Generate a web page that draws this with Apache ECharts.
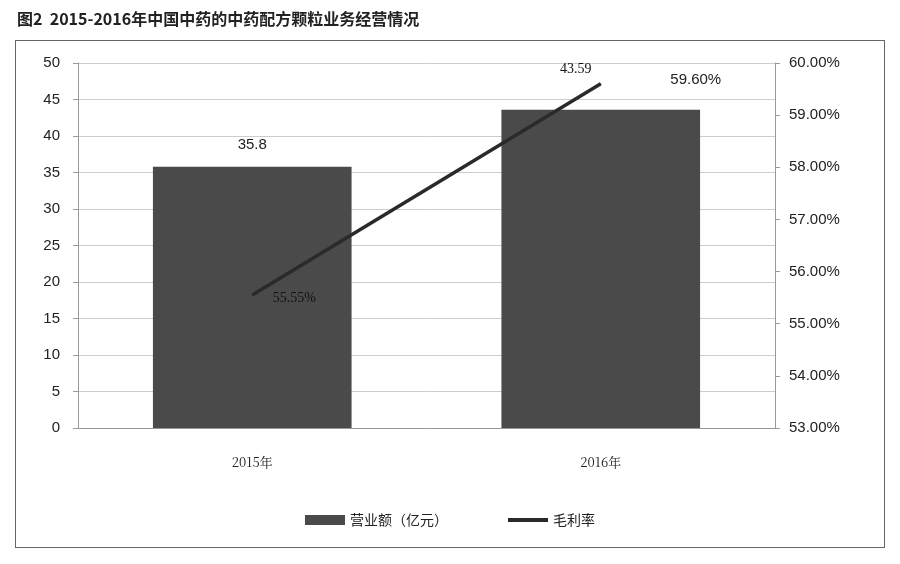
<!DOCTYPE html>
<html><head><meta charset="utf-8">
<script src="https://cdn.jsdelivr.net/npm/echarts@6/dist/echarts.min.js"></script>
<style>body{margin:0;background:#fff}#c{width:900px;height:564px}
#box{position:absolute;left:15px;top:40px;width:870px;height:508px;border:1.5px solid #666;box-sizing:border-box;pointer-events:none}</style>
</head><body><div id="c"></div><div id="box"></div>
<script>
const categories = ['2015年', '2016年'];
const revenue = [35.8, 43.59];
const margin = [55.55, 59.60];
const revenueLabels = ['35.8', '59.60%'];
const marginLabels = ['55.55%', '43.59'];
const leftTicks = [0, 50, 5];
const rightTicks = [53, 60, 1];

const chart = echarts.init(document.getElementById('c'));
chart.setOption({
  animation: false,
  title: {text: '图2  2015-2016年中国中药的中药配方颗粒业务经营情况', left: 12, top: 6,
    textStyle: {fontFamily: 'Noto Sans CJK SC', fontWeight: 'bold', fontSize: 16, color: '#222'}},
  grid: {left: 78, right: 125, top: 63, bottom: 136},
  legend: {bottom: 32, left: 'center', itemGap: 60, itemWidth: 40, itemHeight: 10,
    textStyle: {fontFamily: 'Noto Sans CJK SC', fontSize: 14, color: '#222'},
    data: [{name: '营业额（亿元）', icon: 'rect'},
           {name: '毛利率', icon: 'path://M0,0 L40,0 L40,4 L0,4 Z', itemStyle: {color: '#2a2a2a'}}]},
  xAxis: {type: 'category', data: categories,
    axisLine: {lineStyle: {color: '#999'}}, axisTick: {show: false},
    axisLabel: {margin: 28, fontFamily: 'Noto Serif CJK SC, Noto Sans CJK SC', fontSize: 13, color: '#222'}},
  yAxis: [
    {type: 'value', min: leftTicks[0], max: leftTicks[1], interval: leftTicks[2],
      axisLine: {show: true, lineStyle: {color: '#999'}}, axisTick: {show: true, length: 5},
      splitLine: {lineStyle: {color: '#ccc'}},
      axisLabel: {fontFamily: 'Liberation Sans', fontSize: 15, color: '#222', margin: 18}},
    {type: 'value', min: rightTicks[0], max: rightTicks[1], interval: rightTicks[2],
      axisLine: {show: true, lineStyle: {color: '#999'}}, axisTick: {show: true, length: 5},
      splitLine: {show: false},
      axisLabel: {fontFamily: 'Liberation Sans', fontSize: 15, color: '#222', margin: 14,
        formatter: v => v.toFixed(2) + '%'}}
  ],
  series: [
    {name: '营业额（亿元）', type: 'bar', data: revenue, barWidth: '57%',
      itemStyle: {color: '#4a4a4a'},
      label: {show: true, position: 'top', distance: 14, fontFamily: 'Liberation Sans', fontSize: 15, color: '#222',
        formatter: p => revenueLabels[p.dataIndex]},
      labelLayout: p => p.dataIndex === 1 ? {dx: 95, dy: -8} : {}},
    {name: '毛利率', type: 'line', yAxisIndex: 1, data: margin, symbol: 'circle', symbolSize: 1, showSymbol: true,
      lineStyle: {color: '#2a2a2a', width: 3.5}, itemStyle: {color: '#2a2a2a'},
      label: {show: true, position: 'top', fontSize: 14, color: '#111', fontFamily: 'Liberation Serif',
        formatter: p => marginLabels[p.dataIndex]},
      labelLayout: p => p.dataIndex === 0 ? {dx: 42, dy: 16} : {dx: -25, dy: -2}}
  ]
});
</script></body></html>
